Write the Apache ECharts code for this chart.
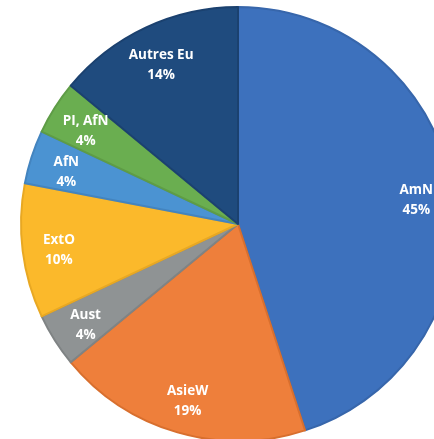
<!DOCTYPE html>
<html>
<head>
<meta charset="utf-8">
<script src="https://cdn.jsdelivr.net/npm/echarts@6/dist/echarts.min.js"></script>
<style>html,body{margin:0;padding:0;background:#fff}#c{width:434px;height:439px}</style>
</head>
<body>
<div id="c"></div>
<script>
const categories = ['AmN', 'AsieW', 'Aust', 'ExtO', 'AfN', 'PI, AfN', 'Autres Eu'];
const values = [45, 19, 4, 10, 4, 4, 14];
const colors = ['#3d71bd', '#ee7f3b', '#8f9394', '#fbb92b', '#4b93d2', '#6aae50', '#1f4b7e'];
const borders = ['#3766ab', '#d86f2e', '#7f8384', '#e8a823', '#4384bf', '#5e9c46', '#1b416f'];

const data = categories.map((c, i) => ({
  name: c, value: values[i],
  itemStyle: { color: colors[i], borderColor: borders[i], borderWidth: 2 }
}));
const labelData = categories.map((c, i) => ({ name: c, value: values[i] }));

const chart = echarts.init(document.getElementById('c'));
chart.setOption({
  animation: false,
  series: [
    {
      type: 'pie', center: [238, 224], radius: [0, 217], startAngle: 90, clockwise: true,
      label: { show: false }, labelLine: { show: false }, data: data, silent: true
    },
    {
      type: 'pie', center: [238, 224], radius: [138, 217], startAngle: 90, clockwise: true,
      itemStyle: { color: 'rgba(0,0,0,0)' },
      labelLine: { show: false },
      label: {
        show: true, position: 'inside', color: '#fff', fontWeight: 'bold',
        fontFamily: 'Open Sans', fontSize: 13.5, lineHeight: 20, offset: [0, 4],
        formatter: p => p.name + '\n' + p.value + '%'
      },
      data: labelData, silent: true
    }
  ]
});
</script>
</body>
</html>
